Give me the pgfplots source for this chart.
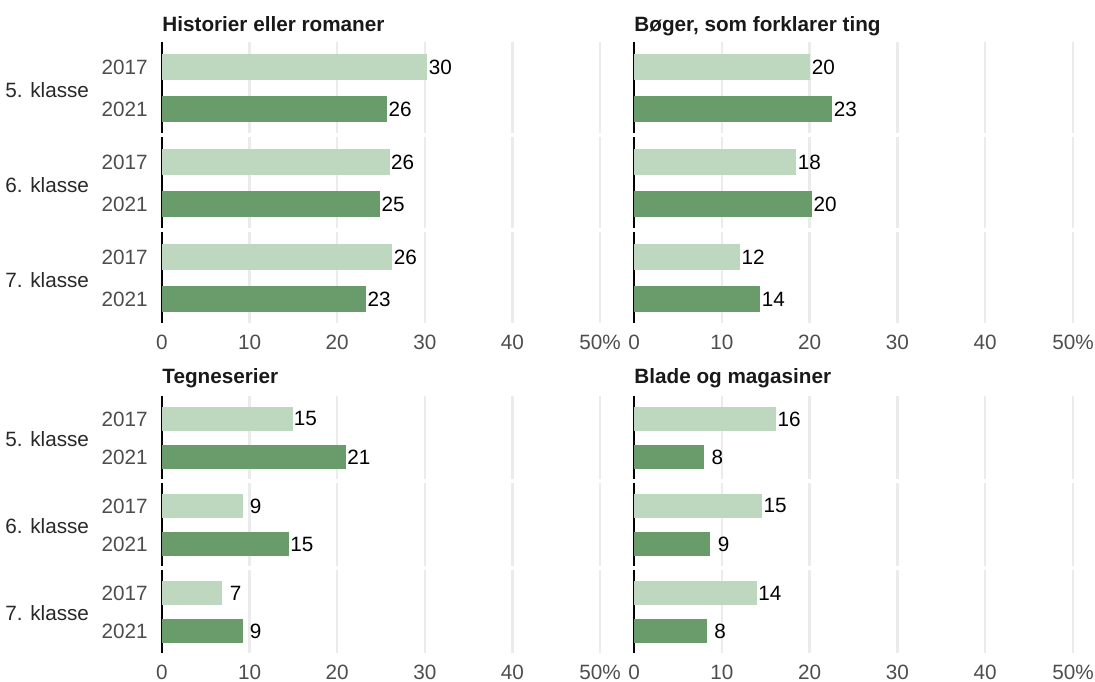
\documentclass[border=0pt]{standalone}
\usepackage{fontspec}
\setmainfont{Liberation Sans}
\usepackage{pgfplots}
\pgfplotsset{compat=1.18}
\definecolor{lightg}{RGB}{190,216,191}
\definecolor{darkg}{RGB}{106,155,107}
\definecolor{gridc}{RGB}{235,235,235}
\definecolor{tickc}{RGB}{77,77,77}
\definecolor{catc}{RGB}{40,40,40}
\def\pad{\kern3pt}
\renewcommand\normalsize{\fontsize{10.35}{12.4}\selectfont}
\pgfplotsset{
 grp/.style={
  scale only axis,
  anchor=north west,
  xmin=0, xmax=50, ymin=-0.57, ymax=1.6,
  xbar, bar width=0.62, bar shift=0pt,
  axis x line*=bottom, axis y line*=left,
  x axis line style={draw=none},
  y axis line style={black, line width=0.8pt, -},
  xtick={0,10,...,50}, xticklabels={0,10,20,30,40,50\%},
  ytick={0,1}, yticklabels={2021,2017},
  major tick length=0pt,
  xmajorgrids, grid style={gridc, line width=1.2pt},
  tick label style={font=\normalsize, text=tickc},
  xticklabel shift=2.4pt,
  yticklabel shift=3.5pt,
  /pgf/number format/assume math mode=true,
  nodes near coords, point meta=explicit symbolic,
  every node near coord/.append style={anchor=west, inner sep=0.5pt, text=black, font=\normalsize},
  clip=false,
 },
 noxt/.style={xticklabels={}},
 noyt/.style={yticklabels={}},
 L/.style={width=219pt},
 R/.style={width=219.5pt},
 T/.style={height=45.5pt},
 B/.style={height=41.5pt},
 lb/.style={fill=lightg, draw=none},
 db/.style={fill=darkg, draw=none},
}
\begin{document}
\normalsize
\begin{tikzpicture}
\path[use as bounding box] (0,0) rectangle (547.5pt,-340.5pt);
% ---------- Top left: Historier eller romaner
\begin{axis}[grp,L,T,noxt,at={(81pt,-21pt)}]
\addplot[lb] coordinates {(30.3,1) [30]};
\addplot[db] coordinates {(25.7,0) [26]};
\end{axis}
\begin{axis}[grp,L,T,noxt,at={(81pt,-68.5pt)}]
\addplot[lb] coordinates {(26.0,1) [26]};
\addplot[db] coordinates {(24.9,0) [25]};
\end{axis}
\begin{axis}[grp,L,T,at={(81pt,-116pt)}]
\addplot[lb] coordinates {(26.3,1) [26]};
\addplot[db] coordinates {(23.3,0) [23]};
\end{axis}
% ---------- Top right: Boger, som forklarer ting
\begin{axis}[grp,R,T,noxt,noyt,at={(317pt,-21pt)}]
\addplot[lb] coordinates {(20.1,1) [20]};
\addplot[db] coordinates {(22.6,0) [23]};
\end{axis}
\begin{axis}[grp,R,T,noxt,noyt,at={(317pt,-68.5pt)}]
\addplot[lb] coordinates {(18.5,1) [18]};
\addplot[db] coordinates {(20.3,0) [20]};
\end{axis}
\begin{axis}[grp,R,T,noyt,at={(317pt,-116pt)}]
\addplot[lb] coordinates {(12.1,1) [12]};
\addplot[db] coordinates {(14.4,0) [14]};
\end{axis}
% ---------- Bottom left: Tegneserier
\begin{axis}[grp,L,B,noxt,at={(81pt,-198pt)}]
\addplot[lb] coordinates {(14.9,1) [15]};
\addplot[db] coordinates {(21.0,0) [21]};
\end{axis}
\begin{axis}[grp,L,B,noxt,at={(81pt,-241.5pt)}]
\addplot[lb] coordinates {(9.2,1) [\pad 9]};
\addplot[db] coordinates {(14.5,0) [15]};
\end{axis}
\begin{axis}[grp,L,B,at={(81pt,-285pt)}]
\addplot[lb] coordinates {(6.9,1) [\pad 7]};
\addplot[db] coordinates {(9.2,0) [\pad 9]};
\end{axis}
% ---------- Bottom right: Blade og magasiner
\begin{axis}[grp,R,B,noxt,noyt,at={(317pt,-198pt)}]
\addplot[lb] coordinates {(16.2,1) [16]};
\addplot[db] coordinates {(8.0,0) [\pad 8]};
\end{axis}
\begin{axis}[grp,R,B,noxt,noyt,at={(317pt,-241.5pt)}]
\addplot[lb] coordinates {(14.6,1) [15]};
\addplot[db] coordinates {(8.7,0) [\pad 9]};
\end{axis}
\begin{axis}[grp,R,B,noyt,at={(317pt,-285pt)}]
\addplot[lb] coordinates {(14.0,1) [14]};
\addplot[db] coordinates {(8.3,0) [\pad 8]};
\end{axis}
% ---------- titles
\node[anchor=base west, inner sep=0pt, font=\bfseries, text=black!90] at (81pt,-15.5pt) {Historier eller romaner};
\node[anchor=base west, inner sep=0pt, font=\bfseries, text=black!90] at (317pt,-15.5pt) {Bøger, som forklarer ting};
\node[anchor=base west, inner sep=0pt, font=\bfseries, text=black!90] at (81pt,-191.5pt) {Tegneserier};
\node[anchor=base west, inner sep=0pt, font=\bfseries, text=black!90] at (317pt,-191.5pt) {Blade og magasiner};
% ---------- class labels
\node[anchor=west, inner sep=0pt, text=catc] at (2.5pt,-45pt) {5. klasse};
\node[anchor=west, inner sep=0pt, text=catc] at (2.5pt,-92.5pt) {6. klasse};
\node[anchor=west, inner sep=0pt, text=catc] at (2.5pt,-140pt) {7. klasse};
\node[anchor=west, inner sep=0pt, text=catc] at (2.5pt,-219.5pt) {5. klasse};
\node[anchor=west, inner sep=0pt, text=catc] at (2.5pt,-263pt) {6. klasse};
\node[anchor=west, inner sep=0pt, text=catc] at (2.5pt,-306.5pt) {7. klasse};
\end{tikzpicture}
\end{document}
